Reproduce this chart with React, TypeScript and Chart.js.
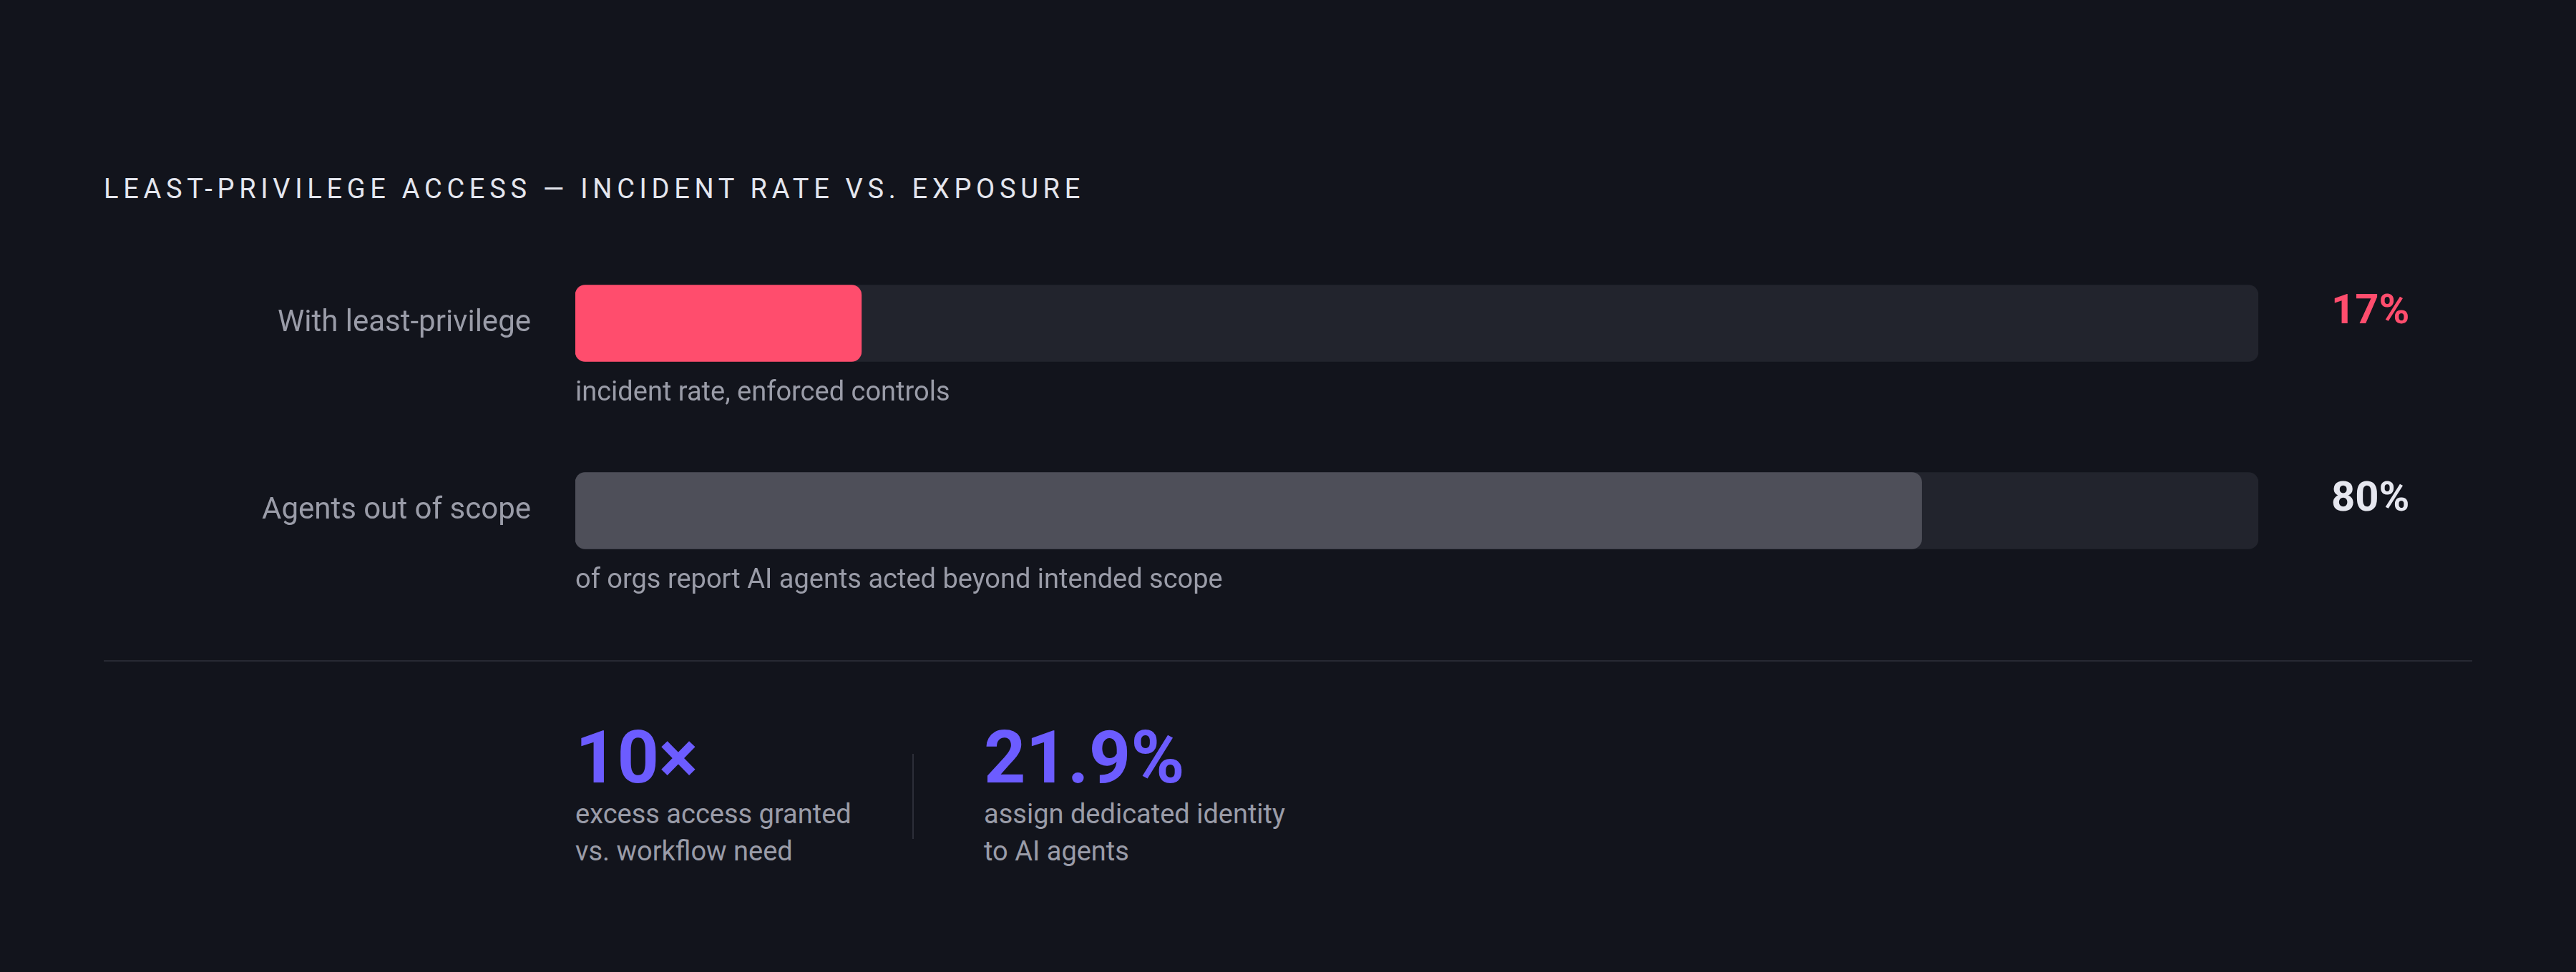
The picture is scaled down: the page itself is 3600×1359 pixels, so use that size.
import { useEffect, useRef } from "react";
import {
  Chart,
  BarController,
  BarElement,
  LinearScale,
  CategoryScale,
  type ChartConfiguration,
  type Plugin,
} from "chart.js";

Chart.register(BarController, BarElement, LinearScale, CategoryScale);

const FONT = "Roboto, 'Noto Sans', sans-serif";

const TITLE = "LEAST-PRIVILEGE ACCESS — INCIDENT RATE VS. EXPOSURE";

const categories = ["With least-privilege", "Agents out of scope"];
const values = [17, 80];
const valueLabels = ["17%", "80%"];
const notes = [
  "incident rate, enforced controls",
  "of orgs report AI agents acted beyond intended scope",
];
const trackMax = 100;

const statValues = ["10×", "21.9%"];
const statNotes = [
  ["excess access granted", "vs. workflow need"],
  ["assign dedicated identity", "to AI agents"],
];

const BG = "#12141c";
const TRACK = "#22242d";
const MUTED = "#9a9ca8";
const barColors = ["#ff4d6d", "#4e4f59"];
const valueColors = ["#ff4d6d", "#e6e7ef"];
const ACCENT = "#6c5cff";

// notes under each bar + big value labels to the right of the track
const barText: Plugin<"bar"> = {
  id: "barText",
  afterDatasetsDraw(chart) {
    const { ctx, chartArea } = chart;
    const meta = chart.getDatasetMeta(0);
    ctx.save();
    meta.data.forEach((bar, i) => {
      const { y, height } = bar.getProps(["y", "height"], true) as {
        y: number;
        height: number;
      };
      const top = y - height / 2;
      const bottom = y + height / 2;
      ctx.textAlign = "left";
      ctx.textBaseline = "alphabetic";
      ctx.font = `400 38px ${FONT}`;
      ctx.fillStyle = MUTED;
      ctx.fillText(notes[i], chartArea.left, bottom + 54);
      ctx.font = `700 58px ${FONT}`;
      ctx.fillStyle = valueColors[i];
      ctx.fillText(valueLabels[i], chartArea.right + 102, top + 53);
    });
    ctx.restore();
  },
};

function BarsChart() {
  const canvasRef = useRef<HTMLCanvasElement>(null);

  useEffect(() => {
    if (!canvasRef.current) return;
    const cfg: ChartConfiguration<"bar", number[], string> = {
      type: "bar",
      data: {
        labels: categories,
        datasets: [
          {
            data: values,
            backgroundColor: barColors,
            borderRadius: 14,
            borderSkipped: false,
            barThickness: 107,
            grouped: false,
            order: 0,
          },
          {
            data: categories.map(() => trackMax),
            backgroundColor: TRACK,
            borderRadius: 14,
            borderSkipped: false,
            barThickness: 107,
            grouped: false,
            order: 1,
          },
        ],
      },
      options: {
        indexAxis: "y",
        responsive: true,
        maintainAspectRatio: false,
        animation: false,
        events: [],
        layout: { padding: { left: 0, right: 444, top: 0, bottom: 0 } },
        plugins: { legend: { display: false }, tooltip: { enabled: false } },
        scales: {
          x: { min: 0, max: trackMax, display: false },
          y: {
            grid: { display: false, drawTicks: false },
            border: { display: false },
            afterFit: (scale) => {
              scale.width = 804;
              // tick padding would otherwise also pad the axis top/bottom
              scale.paddingTop = 0;
              scale.paddingBottom = 0;
            },
            ticks: {
              color: MUTED,
              padding: 62,
              font: { size: 42, family: FONT },
            },
          },
        },
      },
      plugins: [barText],
    };
    const chart = new Chart(canvasRef.current, cfg);
    return () => chart.destroy();
  }, []);

  return (
    <div style={{ position: "absolute", left: 0, top: 321, width: 3600, height: 524 }}>
      <canvas ref={canvasRef} />
    </div>
  );
}

export default function App() {
  const statLefts = [804, 1375];
  return (
    <div
      style={{
        position: "absolute",
        left: 0,
        top: 0,
        width: 3600,
        height: 1359,
        background: BG,
        fontFamily: FONT,
        overflow: "hidden",
      }}
    >
      <div
        style={{
          position: "absolute",
          left: 145,
          top: 245,
          fontSize: 38,
          lineHeight: 1,
          letterSpacing: 6.7,
          color: "#e4e6ee",
          whiteSpace: "nowrap",
        }}
      >
        {TITLE}
      </div>
      <BarsChart />
      <div
        style={{
          position: "absolute",
          left: 145,
          top: 923,
          width: 3310,
          height: 2,
          background: "#272933",
        }}
      />
      {statValues.map((v, i) => (
        <div key={v} style={{ position: "absolute", left: statLefts[i], top: 1008 }}>
          <div style={{ fontSize: 102, fontWeight: 700, lineHeight: 1, color: ACCENT }}>{v}</div>
          <div
            style={{
              marginTop: 2,
              fontSize: 38,
              lineHeight: "52px",
              color: MUTED,
              whiteSpace: "nowrap",
            }}
          >
            {statNotes[i].map((line) => (
              <div key={line}>{line}</div>
            ))}
          </div>
        </div>
      ))}
      <div
        style={{
          position: "absolute",
          left: 1275,
          top: 1054,
          width: 2,
          height: 119,
          background: "#2c2e38",
        }}
      />
    </div>
  );
}
